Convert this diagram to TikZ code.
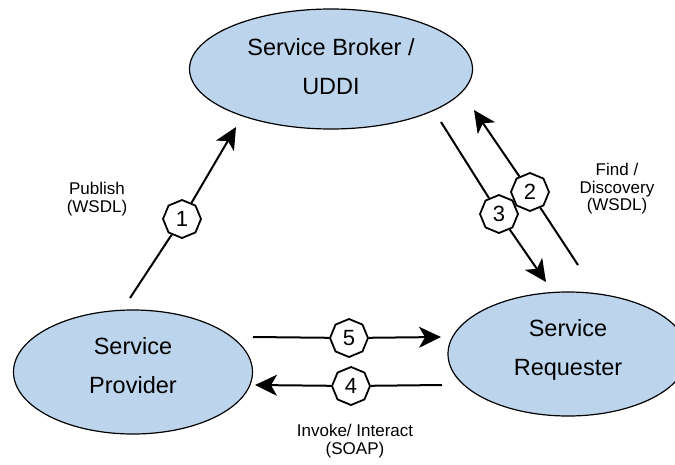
\documentclass[tikz,border=0pt]{standalone}
\usepackage{fontspec}
\setmainfont{Liberation Sans}
\usetikzlibrary{shapes.geometric,arrows.meta}
\definecolor{roleblue}{RGB}{189,213,236}
\tikzset{
  role/.style={ellipse, draw=black, line width=1.2pt, fill=roleblue,
    inner sep=0pt},
  roletext/.style={align=center, font=\fontsize{23.5}{39}\selectfont},
  stepno/.style={regular polygon, regular polygon sides=8,
    shape border rotate=22.5, draw=black, line width=1.8pt, fill=white,
    minimum size=38pt, inner sep=0pt, font=\fontsize{22}{22}\selectfont},
  flow/.style={line width=2pt, -{Stealth[length=22pt,width=21pt,inset=6pt]}},
  note/.style={align=center, font=\fontsize{17}{17.5}\selectfont}
}
\begin{document}
\begin{tikzpicture}[x=1pt, y=-1pt]
\useasboundingbox (0,0) rectangle (675,464);

% the three roles
\node[role, minimum width=283pt, minimum height=120pt,
  label={[roletext, yshift=2pt]center:Service Broker /\\UDDI}] (broker) at (331,69) {};
\node[role, minimum width=239pt, minimum height=124pt,
  label={[roletext, yshift=6.5pt]center:Service\\Provider}] (provider) at (133,372) {};
\node[role, minimum width=240pt, minimum height=124pt,
  label={[roletext, yshift=4pt]center:Service\\Requester}] (requester) at (568,354) {};

% loose ends of the message arrows
\coordinate (p1a) at (130,298);  \coordinate (p1b) at (236,127);
\coordinate (p2a) at (578,265);  \coordinate (p2b) at (474,110);
\coordinate (p3a) at (441,122);  \coordinate (p3b) at (546,282);
\coordinate (p5a) at (253,337);  \coordinate (p5b) at (441,337);
\coordinate (p4a) at (442,385);  \coordinate (p4b) at (255,385);

% numbered steps
\node[stepno] (s1) at (182,219) {1};
\node[stepno] (s2) at (530,192) {2};
\node[stepno] (s3) at (499,214) {3};
\node[stepno] (s5) at (349,338) {5};
\node[stepno] (s4) at (351,386) {4};

% message arrows
\draw[flow] (p1a) -- (s1) -- (p1b);
\draw[flow] (p2a) -- (s2) -- (p2b);
\draw[flow] (p3a) -- (s3) -- (p3b);
\draw[flow] (p5a) -- (s5) -- (p5b);
\draw[flow] (p4a) -- (s4) -- (p4b);

% arrow captions
\node[note] (publish) at (97,199) {Publish\\(WSDL)};
\node[note] (find) at (617,189) {Find /\\Discovery\\(WSDL)};
\node[note] (invoke) at (355,441) {Invoke/ Interact\\(SOAP)};
\end{tikzpicture}
\end{document}
